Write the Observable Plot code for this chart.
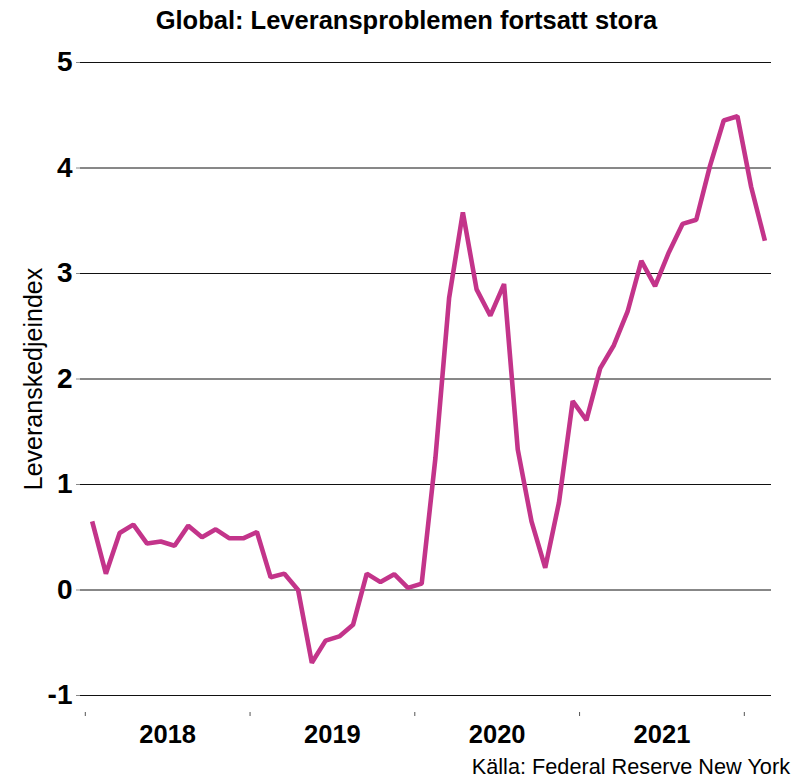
<!DOCTYPE html>
<html>
<head>
<meta charset="utf-8">
<script src="https://cdn.jsdelivr.net/npm/d3@7"></script>
<script src="https://cdn.jsdelivr.net/npm/@observablehq/plot@0.6"></script>
<style>
  html, body { margin: 0; padding: 0; background: #fff; }
  body { width: 809px; height: 779px; overflow: hidden; font-family: "Liberation Sans", Arial, sans-serif; }
  #title { height: 40px; line-height: 40px; text-align: center; font-weight: bold; font-size: 25.5px; color: #000; padding-left: 4px; }
  #caption { text-align: right; font-size: 21.7px; line-height: 24px; color: #000; padding-right: 19px; margin-top: 5px; }
  svg { display: block; }
</style>
</head>
<body>
<div id="title">Global: Leveransproblemen fortsatt stora</div>
<div id="chart"></div>
<div id="caption">Källa: Federal Reserve New York</div>
<script>
// Monthly Global Supply Chain Pressure Index, Jan 2018 – Feb 2022
const startYear = 2018;
const values = [
  0.65, 0.155, 0.54, 0.62, 0.44, 0.46, 0.42, 0.61, 0.50, 0.575, 0.49, 0.49,   // 2018
  0.55, 0.12, 0.155, 0.0, -0.69, -0.48, -0.44, -0.33, 0.155, 0.075, 0.15, 0.02, // 2019
  0.06, 1.25, 2.77, 3.58, 2.85, 2.60, 2.90, 1.33, 0.65, 0.21, 0.83, 1.79,     // 2020
  1.61, 2.10, 2.32, 2.64, 3.12, 2.88, 3.20, 3.47, 3.51, 4.02, 4.45, 4.49,     // 2021
  3.82, 3.31                                                                  // 2022
];
const yearLabels = ["2018", "2019", "2020", "2021"];
const yTicks = [-1, 0, 1, 2, 3, 4, 5];
const yLabel = "Leveranskedjeindex";

const data = values.map((v, i) => ({i, v}));
// year boundaries (start of each year) and year centres, in month-index units
const yearStarts = [0, 1, 2, 3, 4].map(k => 12 * k - 0.5);
const yearMids = yearLabels.map((_, k) => 12 * k + 5.5);

const font = "Liberation Sans, Arial, sans-serif";
const chart = Plot.plot({
  width: 809,
  height: 710,
  marginTop: 22,
  marginBottom: 55,
  marginLeft: 80,
  marginRight: 38,
  style: {fontFamily: font, background: "#fff", color: "#000"},
  x: {type: "linear", domain: [-0.85, 49.48]},
  y: {domain: [-1, 5], ticks: yTicks},
  marks: [
    Plot.gridY(yTicks, {stroke: "#111", strokeOpacity: 1, strokeWidth: 1}),
    Plot.axisY(yTicks, {
      tickFormat: d => String(d), tickSize: 4, tickPadding: 4,
      fontSize: 28, fontWeight: "bold", label: null, stroke: "#888"
    }),
    Plot.axisX(yearStarts, {tickFormat: () => "", tickSize: 4, dy: 17, label: null, stroke: "#555"}),
    Plot.axisX(yearMids, {
      tickFormat: (d, k) => yearLabels[k], tickSize: 0, tickPadding: 29,
      fontSize: 25.5, fontWeight: "bold", label: null
    }),
    Plot.text([yLabel], {frameAnchor: "left", textAnchor: "middle", dx: -47, rotate: -90, fontSize: 25, fill: "#000"}),
    Plot.line(data, {x: "i", y: "v", stroke: "#c3348a", strokeWidth: 4.6, strokeLinejoin: "miter", strokeLinecap: "butt"})
  ]
});
document.getElementById("chart").appendChild(chart);
</script>
</body>
</html>
